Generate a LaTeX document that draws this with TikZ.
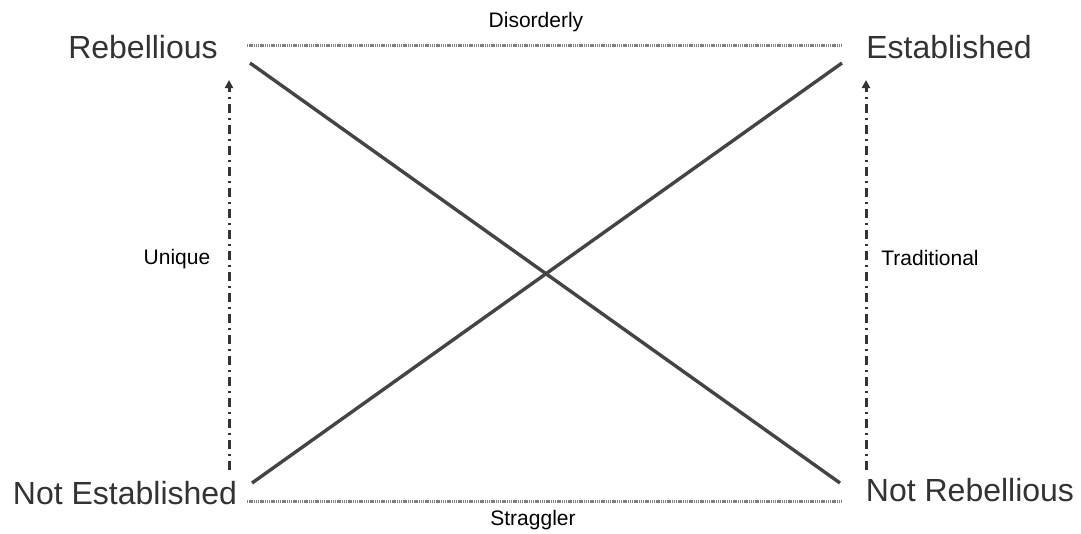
\documentclass[tikz,border=0pt]{standalone}
\usepackage{fontspec}
\setmainfont{Liberation Sans}
\usetikzlibrary{arrows.meta,positioning}
\definecolor{quadInk}{HTML}{333333}
\definecolor{quadDiag}{HTML}{444444}
\definecolor{quadDot}{HTML}{808080}
\tikzset{
  quadCorner/.style={text=quadInk, inner sep=0pt, font=\fontsize{32}{36}\selectfont},
  quadAxis/.style={text=black, inner sep=0pt, font=\fontsize{21}{24}\selectfont},
  quadDiagLine/.style={draw=quadDiag, line width=3.4pt},
  quadDotLine/.style={draw=quadDot, line width=3pt, dash pattern=on 1.4pt off 0.8pt},
  quadArrow/.style={draw=quadInk, line width=3pt, dash pattern=on 9pt off 5pt on 2pt off 5pt, -{Triangle[length=8pt,width=8pt]}}
}

\begin{document}
\begin{tikzpicture}[x=1pt, y=-1pt]
      \useasboundingbox (0,0) rectangle (1081,533);
      \node[quadCorner] (reb) at (143,47) {Rebellious};
      \node[quadCorner] (est) at (949,47) {Established};
      \node[quadCorner] (notest) at (125,493) {Not Established};
      \node[quadCorner] (notreb) at (970,490) {Not Rebellious};
      \node[quadAxis] (disorderly) at (536,22) {Disorderly};
      \node[quadAxis] (straggler) at (533,520) {Straggler};
      \node[quadAxis] (unique) at (177,259) {Unique};
      \node[quadAxis] (traditional) at (930,258) {Traditional};
      \coordinate (topL) at (247,45);
      \coordinate (topR) at (843,45);
      \coordinate (botL) at (247,501);
      \coordinate (botR) at (843,501);
      \coordinate (rebEnd) at (250,63);
      \coordinate (notrebEnd) at (840,483);
      \coordinate (notestEnd) at (252,483);
      \coordinate (estEnd) at (842,63);
      \coordinate (leftFoot) at (229,470);
      \coordinate (leftTip) at (229,80);
      \coordinate (rightFoot) at (866,470);
      \coordinate (rightTip) at (866,80);
      \draw[quadDotLine] (topL) -- (topR);
      \draw[quadDotLine] (botL) -- (botR);
      \draw[quadDiagLine] (rebEnd) -- (notrebEnd);
      \draw[quadDiagLine] (notestEnd) -- (estEnd);
      \draw[quadArrow] (leftFoot) -- (leftTip);
      \draw[quadArrow] (rightFoot) -- (rightTip);
    \end{tikzpicture}
\end{document}
